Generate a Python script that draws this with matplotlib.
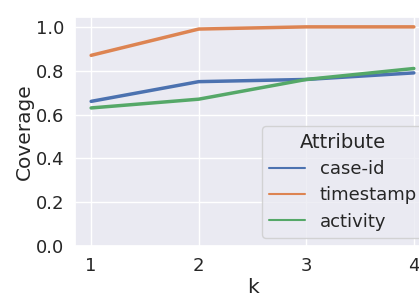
import matplotlib
matplotlib.use("Agg")
import matplotlib.pyplot as plt
import seaborn as sns
from matplotlib.lines import Line2D

# data
k = [1, 2, 3, 4]
case_id = [0.66, 0.75, 0.76, 0.79]
timestamp = [0.87, 0.99, 1.00, 1.00]
activity = [0.63, 0.67, 0.76, 0.81]
labels = ["case-id", "timestamp", "activity"]

sns.set_theme(style="darkgrid")
plt.rcParams['font.family'] = ['DejaVu Sans']
colors = sns.color_palette()

fig = plt.figure(figsize=(4.19, 2.97), dpi=100)
# axes runs past the right edge, like the cropped original
ax = fig.add_axes([75 / 419, 1 - 246 / 297, 355 / 419, 229 / 297])

for ys, c in zip([case_id, timestamp, activity], colors):
    ax.plot(k, ys, color=c, lw=2.5)

ax.set_xlim(0.85, 4.15)
ax.set_ylim(0, 1.045)
ax.set_xticks(k)
ax.set_yticks([0.0, 0.2, 0.4, 0.6, 0.8, 1.0])
ax.tick_params(labelsize=13, pad=2)
ax.set_xlabel("k", fontsize=14.5, labelpad=2)
ax.set_ylabel("Coverage", fontsize=14.5, labelpad=1)

handles = [Line2D([], [], color=c, lw=1.5) for c in colors[:3]]
leg = ax.legend(handles, labels, title="Attribute", fontsize=13, title_fontsize=14,
                loc="upper left", bbox_to_anchor=(262 / 419, 1 - 126 / 297),
                bbox_transform=fig.transFigure, handlelength=2.0, labelspacing=0.45,
                borderaxespad=0)

fig.savefig("out.png", dpi=100)
